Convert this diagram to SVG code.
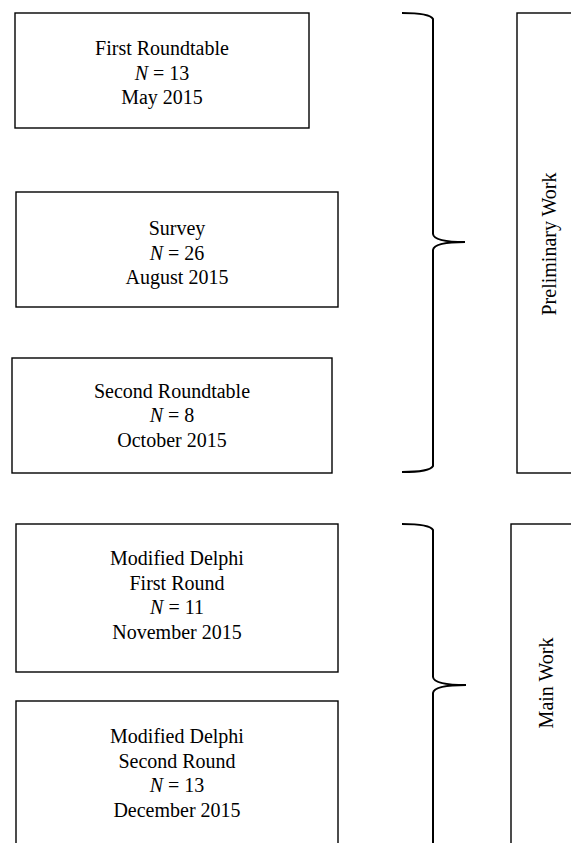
<svg xmlns="http://www.w3.org/2000/svg" width="571" height="843" viewBox="0 0 571 843">
<style>
.box{fill:#fff;stroke:#000;stroke-width:1.4}
.brace{fill:none;stroke:#000;stroke-width:2}
text{font-family:"Liberation Serif","Times New Roman",serif;font-size:20px;fill:#000;text-anchor:middle}
.i{font-style:italic}
</style>
<rect width="571" height="843" fill="#fff"/>
<g id="first-roundtable">
<rect class="box" x="15" y="13" width="294" height="115"/>
<text x="162" y="55">First Roundtable</text>
<text x="162" y="79.5"><tspan class="i">N</tspan> = 13</text>
<text x="162" y="104">May 2015</text>
</g>
<g id="survey">
<rect class="box" x="16" y="192" width="322" height="115"/>
<text x="177" y="235">Survey</text>
<text x="177" y="259.5"><tspan class="i">N</tspan> = 26</text>
<text x="177" y="284">August 2015</text>
</g>
<g id="second-roundtable">
<rect class="box" x="12" y="358" width="320" height="115"/>
<text x="172" y="397.5">Second Roundtable</text>
<text x="172" y="422"><tspan class="i">N</tspan> = 8</text>
<text x="172" y="446.5">October 2015</text>
</g>
<g id="delphi-first">
<rect class="box" x="16" y="524" width="322" height="148"/>
<text x="177" y="565">Modified Delphi</text>
<text x="177" y="589.5">First Round</text>
<text x="177" y="614"><tspan class="i">N</tspan> = 11</text>
<text x="177" y="638.5">November 2015</text>
</g>
<g id="delphi-second">
<rect class="box" x="16" y="701" width="322" height="160"/>
<text x="177" y="743">Modified Delphi</text>
<text x="177" y="767.5">Second Round</text>
<text x="177" y="792"><tspan class="i">N</tspan> = 13</text>
<text x="177" y="816.5">December 2015</text>
</g>
<g id="preliminary-work">
<rect class="box" x="517" y="13" width="70" height="460"/>
<text transform="translate(556,244) rotate(-90)">Preliminary Work</text>
</g>
<g id="main-work">
<rect class="box" x="511" y="524" width="80" height="340"/>
<text transform="translate(553,683) rotate(-90)">Main Work</text>
</g>
<g id="connectors">
<path class="brace" d="M402,13 Q430,13 433,19 L433,234 Q434,242 465,242 Q434,242 433,250 L433,466 Q430,472 402,472"/>
<path class="brace" d="M402,524 Q430,524 433,530 L433,677 Q434,685 466,685 Q434,685 433,693 L433,850"/>
</g>
</svg>
